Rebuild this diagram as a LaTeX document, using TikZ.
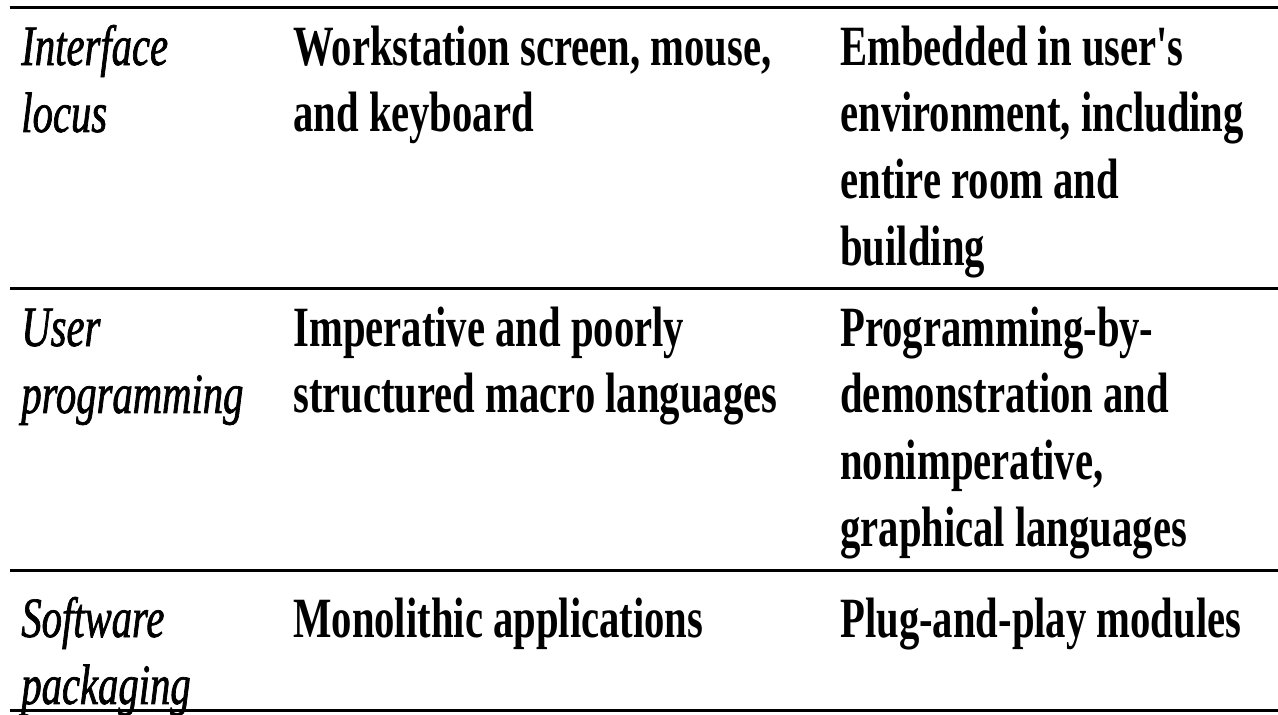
\documentclass[tikz,border=0pt]{standalone}
\usepackage{fontspec}
\usepackage{tikz}
\newfontfamily\cellfont{Liberation Serif}[FakeStretch=0.714, ItalicFeatures={FakeBold=1.2}]
% stacked lines, baseline on the first one
\newcommand{\stack}[1]{\begin{tabular}[t]{@{}l@{}}#1\end{tabular}}

\tikzset{
  rowlabel/.style={anchor=base west, inner sep=0pt,
    font=\fontsize{32.4pt}{38.1pt}\cellfont\itshape},
  cell/.style={anchor=base west, inner sep=0pt,
    font=\fontsize{32.4pt}{38.1pt}\cellfont\bfseries},
  rule/.style={line width=0.06cm}
}

\begin{document}
\begin{tikzpicture}
  \useasboundingbox (0,0) rectangle (25.56,-14.28);
  % rules
  \draw[rule] (0.2,-0.14) -- (25.56,-0.14);
  \draw[rule] (0.2,-5.76) -- (25.56,-5.76);
  \draw[rule] (0.2,-11.40) -- (25.56,-11.40);
  \draw[rule] (0.2,-14.20) -- (25.56,-14.20);
  % first row
  \node[rowlabel] (locus) at (0.42,-1.30) {\stack{Interface\\locus}};
  \node[cell] (wsold) at (5.86,-1.30) {\stack{Workstation screen, mouse,\\and keyboard}};
  \node[cell] (wsnew) at (16.80,-1.30) {\stack{Embedded in user's\\environment, including\\entire room and\\building}};
  % second row
  \node[rowlabel] (prog) at (0.42,-6.92) {\stack{User\\programming}};
  \node[cell] (progold) at (5.86,-6.92) {\stack{Imperative and poorly\\structured macro languages}};
  \node[cell] (prognew) at (16.80,-6.92) {\stack{Programming-by-\\demonstration and\\nonimperative,\\graphical languages}};
  % third row
  \node[rowlabel] (pack) at (0.42,-12.74) {\stack{Software\\packaging}};
  \node[cell] (packold) at (5.86,-12.74) {Monolithic applications};
  \node[cell] (packnew) at (16.80,-12.74) {Plug-and-play modules};
\end{tikzpicture}
\end{document}
